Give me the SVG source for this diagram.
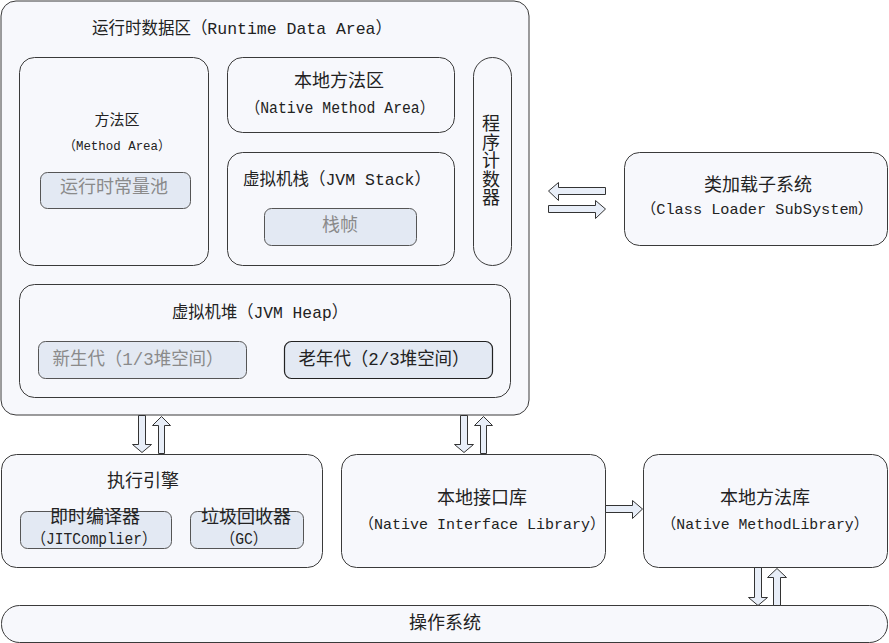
<svg xmlns="http://www.w3.org/2000/svg" width="889" height="643" viewBox="0 0 889 643">
<style>
.box{fill:#f7f8fc;stroke:#3a3a3a;stroke-width:1}
.inner{fill:#e3e9f3;stroke:#555;stroke-width:1}
.inner2{fill:#e3e9f3;stroke:#222;stroke-width:1.2}
.t{font-family:"Liberation Mono","Noto Sans CJK SC",monospace;fill:#222;text-anchor:middle}
.g{fill:#8a8a8a}
.arr{fill:#e8eef8;stroke:#333;stroke-width:1;stroke-linejoin:miter}
</style>
<rect width="889" height="643" fill="#ffffff"/>
<g id="runtime-data-area">
<rect class="box" x="1" y="1" width="528" height="414" rx="15"/>
<text class="t" x="242" y="34" font-size="17" textLength="300" lengthAdjust="spacingAndGlyphs">运行时数据区（Runtime Data Area）</text>
</g>
<g id="method-area">
<rect class="box" x="19.5" y="57.5" width="189" height="208" rx="15"/>
<text class="t" x="117" y="125" font-size="15">方法区</text>
<text class="t" x="117" y="150" font-size="13" textLength="107" lengthAdjust="spacingAndGlyphs">（Method Area）</text>
</g>
<g id="runtime-constant-pool">
<rect class="inner" x="40.5" y="172.5" width="150" height="36" rx="7"/>
<text class="t g" x="114" y="193" font-size="18">运行时常量池</text>
</g>
<g id="native-method-area">
<rect class="box" x="227.5" y="57.5" width="227" height="75" rx="15"/>
<text class="t" x="339" y="87" font-size="18">本地方法区</text>
<text class="t" x="340" y="113" font-size="16" textLength="189" lengthAdjust="spacingAndGlyphs">（Native Method Area）</text>
</g>
<g id="jvm-stack">
<rect class="box" x="227.5" y="152.5" width="227" height="113" rx="15"/>
<text class="t" x="337" y="185" font-size="17" textLength="188" lengthAdjust="spacingAndGlyphs">虚拟机栈（JVM Stack）</text>
</g>
<g id="stack-frame">
<rect class="inner" x="264.5" y="208.5" width="152" height="37" rx="7"/>
<text class="t g" x="340" y="231" font-size="18">栈帧</text>
</g>
<g id="program-counter">
<rect class="box" x="473.5" y="57.5" width="38" height="208" rx="19"/>
<text class="t" font-size="18" x="491">
<tspan x="491" y="130">程</tspan><tspan x="491" y="148.5">序</tspan><tspan x="491" y="167">计</tspan><tspan x="491" y="185.5">数</tspan><tspan x="491" y="204">器</tspan>
</text>
</g>
<g id="jvm-heap">
<rect class="box" x="19.5" y="284.5" width="491" height="113" rx="15"/>
<text class="t" x="260" y="318" font-size="17" textLength="176" lengthAdjust="spacingAndGlyphs">虚拟机堆（JVM Heap）</text>
</g>
<g id="young-gen">
<rect class="inner" x="38.5" y="341.5" width="208" height="37" rx="7"/>
<text class="t g" x="138" y="365" font-size="18" textLength="171" lengthAdjust="spacingAndGlyphs">新生代（1/3堆空间）</text>
</g>
<g id="old-gen">
<rect class="inner2" x="284.5" y="341.5" width="208" height="37" rx="7"/>
<text class="t" x="384" y="365" font-size="18" textLength="171" lengthAdjust="spacingAndGlyphs">老年代（2/3堆空间）</text>
</g>
<g id="class-loader">
<rect class="box" x="624.5" y="152.5" width="263" height="93" rx="15"/>
<text class="t" x="758" y="191" font-size="18">类加载子系统</text>
<text class="t" x="757" y="214" font-size="15" textLength="232" lengthAdjust="spacingAndGlyphs">（Class Loader SubSystem）</text>
</g>
<g id="execution-engine">
<rect class="box" x="1.5" y="454.5" width="321" height="113" rx="15"/>
<text class="t" x="143" y="487" font-size="18">执行引擎</text>
</g>
<g id="jit-compiler">
<rect class="inner" x="20.5" y="511.5" width="151" height="37" rx="7"/>
<text class="t" x="95" y="523" font-size="18">即时编译器</text>
<text class="t" x="94" y="544" font-size="16" textLength="125" lengthAdjust="spacingAndGlyphs">（JITComplier）</text>
</g>
<g id="gc">
<rect class="inner" x="190.5" y="511.5" width="113" height="37" rx="7"/>
<text class="t" x="246" y="523" font-size="18">垃圾回收器</text>
<text class="t" x="244" y="544" font-size="16" textLength="47" lengthAdjust="spacingAndGlyphs">（GC）</text>
</g>
<g id="native-interface-library">
<rect class="box" x="341.5" y="454.5" width="264" height="113" rx="15"/>
<text class="t" x="482" y="504" font-size="18">本地接口库</text>
<text class="t" x="482" y="529" font-size="15" textLength="246" lengthAdjust="spacingAndGlyphs">（Native Interface Library）</text>
</g>
<g id="native-method-library">
<rect class="box" x="643.5" y="454.5" width="244" height="113" rx="15"/>
<text class="t" x="765" y="504" font-size="18">本地方法库</text>
<text class="t" x="765" y="529" font-size="15" textLength="207" lengthAdjust="spacingAndGlyphs">（Native MethodLibrary）</text>
</g>
<g id="operating-system">
<rect class="box" x="1.5" y="605.5" width="886" height="37" rx="18"/>
<text class="t" x="445" y="629" font-size="18">操作系统</text>
</g>
<g id="connectors">
<polygon class="arr" points="138.5,415.5 145.5,415.5 145.5,444.5 151.5,444.5 142,452.5 132.5,444.5 138.5,444.5"/>
<polygon class="arr" points="158.5,453.5 164.5,453.5 164.5,425.5 170.5,425.5 161.5,416.5 152.5,425.5 158.5,425.5"/>
<polygon class="arr" points="460.5,415.5 467.5,415.5 467.5,444.5 473.5,444.5 464,452.5 454.5,444.5 460.5,444.5"/>
<polygon class="arr" points="480.5,453.5 486.5,453.5 486.5,425.5 492.5,425.5 483.5,416.5 474.5,425.5 480.5,425.5"/>
<polygon class="arr" points="754.5,567.5 761.5,567.5 761.5,597.5 767.5,597.5 758,605.5 748.5,597.5 754.5,597.5"/>
<polygon class="arr" points="773.5,605.5 780.5,605.5 780.5,577.5 786.5,577.5 777,568.5 767.5,577.5 773.5,577.5"/>
<polygon class="arr" points="605.5,187.5 605.5,194.5 558.5,194.5 558.5,200.5 548.5,191 558.5,182.5 558.5,187.5"/>
<polygon class="arr" points="548.5,205.5 548.5,212.5 595.5,212.5 595.5,218.5 605.5,209 595.5,200.5 595.5,205.5"/>
<polygon class="arr" points="605.5,505.5 605.5,512.5 632.5,512.5 632.5,518.5 642.5,509 632.5,500.5 632.5,505.5"/>
</g>
</svg>
